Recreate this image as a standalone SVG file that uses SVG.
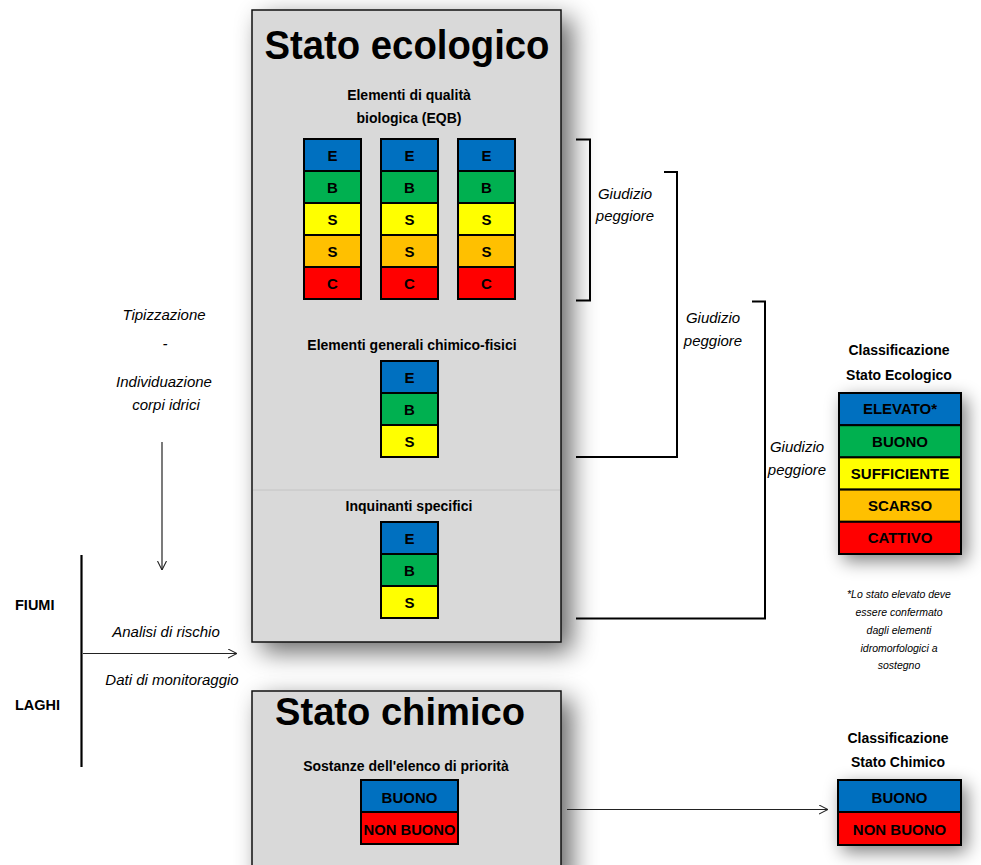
<svg xmlns="http://www.w3.org/2000/svg" width="981" height="865" viewBox="0 0 981 865">
<style>
text{font-family:"Liberation Sans",Arial,sans-serif;fill:#000}
.b{font-weight:bold}
.t{font-weight:bold;font-size:14px;text-anchor:middle}
.it{font-style:italic;font-size:15px;text-anchor:middle}
.fn{font-style:italic;font-size:10.5px;text-anchor:middle}
.cell{stroke:#000;stroke-width:2}
.c{font-weight:bold;font-size:15px;text-anchor:middle}
.box{fill:#d9d9d9;stroke:#111;stroke-width:1.5}
.ln{fill:none;stroke:#000;stroke-width:2}
.ar{fill:none;stroke:#222;stroke-width:1.2}
.E{fill:#0070C0}.B{fill:#00B050}.S{fill:#FFFF00}.O{fill:#FFC000}.R{fill:#FF0000}
</style>
<defs>
<filter id="sh" x="-20%" y="-20%" width="150%" height="150%">
<feGaussianBlur in="SourceAlpha" stdDeviation="13"/>
<feOffset dx="10" dy="9" result="o"/>
<feComponentTransfer><feFuncA type="linear" slope="0.6"/></feComponentTransfer>
<feMerge><feMergeNode/><feMergeNode in="SourceGraphic"/></feMerge>
</filter>
<filter id="sh2" x="-40%" y="-40%" width="180%" height="180%">
<feGaussianBlur in="SourceAlpha" stdDeviation="9"/>
<feOffset dx="5" dy="6"/>
<feComponentTransfer><feFuncA type="linear" slope="0.5"/></feComponentTransfer>
<feMerge><feMergeNode/><feMergeNode in="SourceGraphic"/></feMerge>
</filter>
<marker id="ah" viewBox="0 0 10 10" refX="10" refY="5" markerWidth="9" markerHeight="10" markerUnits="userSpaceOnUse" orient="auto">
<path d="M0,0 L10,5 L0,10" fill="none" stroke="#222" stroke-width="1.2"/>
</marker>
</defs>
<rect width="981" height="865" fill="#fff"/>

<g id="stato-ecologico">
<rect class="box" x="252" y="10" width="309" height="632" filter="url(#sh)"/>
<text class="b" x="407" y="59" font-size="40" text-anchor="middle" textLength="285" lengthAdjust="spacingAndGlyphs">Stato ecologico</text>
<line x1="253" y1="490" x2="560" y2="490" stroke="#c4c4c4" stroke-width="1"/>
</g>

<g id="eqb">
<text class="t" x="409" y="100">Elementi di qualità</text>
<text class="t" x="409" y="123">biologica (EQB)</text>
<g id="eqb-col1">
<rect class="cell E" x="304" y="139" width="57" height="32"/>
<rect class="cell B" x="304" y="171" width="57" height="32"/>
<rect class="cell S" x="304" y="203" width="57" height="32"/>
<rect class="cell O" x="304" y="235" width="57" height="32"/>
<rect class="cell R" x="304" y="267" width="57" height="32"/>
<text class="c" x="332.5" y="161">E</text><text class="c" x="332.5" y="193">B</text><text class="c" x="332.5" y="225">S</text><text class="c" x="332.5" y="257">S</text><text class="c" x="332.5" y="289">C</text>
</g>
<g id="eqb-col2">
<rect class="cell E" x="381" y="139" width="57" height="32"/>
<rect class="cell B" x="381" y="171" width="57" height="32"/>
<rect class="cell S" x="381" y="203" width="57" height="32"/>
<rect class="cell O" x="381" y="235" width="57" height="32"/>
<rect class="cell R" x="381" y="267" width="57" height="32"/>
<text class="c" x="409.5" y="161">E</text><text class="c" x="409.5" y="193">B</text><text class="c" x="409.5" y="225">S</text><text class="c" x="409.5" y="257">S</text><text class="c" x="409.5" y="289">C</text>
</g>
<g id="eqb-col3">
<rect class="cell E" x="458" y="139" width="57" height="32"/>
<rect class="cell B" x="458" y="171" width="57" height="32"/>
<rect class="cell S" x="458" y="203" width="57" height="32"/>
<rect class="cell O" x="458" y="235" width="57" height="32"/>
<rect class="cell R" x="458" y="267" width="57" height="32"/>
<text class="c" x="486.5" y="161">E</text><text class="c" x="486.5" y="193">B</text><text class="c" x="486.5" y="225">S</text><text class="c" x="486.5" y="257">S</text><text class="c" x="486.5" y="289">C</text>
</g>
</g>

<g id="chimico-fisici">
<text class="t" x="412" y="350">Elementi generali chimico-fisici</text>
<rect class="cell E" x="381" y="361" width="57" height="32"/>
<rect class="cell B" x="381" y="393" width="57" height="32"/>
<rect class="cell S" x="381" y="425" width="57" height="32"/>
<text class="c" x="409.5" y="383">E</text><text class="c" x="409.5" y="415">B</text><text class="c" x="409.5" y="447">S</text>
</g>

<g id="inquinanti">
<text class="t" x="409" y="511">Inquinanti specifici</text>
<rect class="cell E" x="381" y="522" width="57" height="32"/>
<rect class="cell B" x="381" y="554" width="57" height="32"/>
<rect class="cell S" x="381" y="586" width="57" height="32"/>
<text class="c" x="409.5" y="544">E</text><text class="c" x="409.5" y="576">B</text><text class="c" x="409.5" y="608">S</text>
</g>

<g id="stato-chimico">
<rect class="box" x="252" y="691" width="309" height="190" filter="url(#sh)"/>
<text class="b" x="400" y="725" font-size="39" text-anchor="middle" textLength="250" lengthAdjust="spacingAndGlyphs">Stato chimico</text>
<text class="t" x="406" y="771">Sostanze dell'elenco di priorità</text>
<rect class="cell E" x="361" y="780" width="97" height="32"/>
<rect class="cell R" x="361" y="812" width="97" height="32"/>
<text class="c" x="409.5" y="803" font-size="14.5">BUONO</text>
<text class="c" x="409.5" y="835" font-size="14.5" textLength="92" lengthAdjust="spacingAndGlyphs">NON BUONO</text>
</g>

<g id="class-ecologico">
<text class="t" x="899" y="355">Classificazione</text>
<text class="t" x="899" y="380">Stato Ecologico</text>
<g filter="url(#sh2)">
<rect class="cell E" x="839" y="393" width="122" height="32.2"/>
<rect class="cell B" x="839" y="425.2" width="122" height="32.2"/>
<rect class="cell S" x="839" y="457.4" width="122" height="32.2"/>
<rect class="cell O" x="839" y="489.6" width="122" height="32.2"/>
<rect class="cell R" x="839" y="521.8" width="122" height="32.2"/>
</g>
<text class="c" x="900" y="414" font-size="13.5">ELEVATO*</text>
<text class="c" x="900" y="446.5" font-size="13.5">BUONO</text>
<text class="c" x="900" y="478.5" font-size="13.5">SUFFICIENTE</text>
<text class="c" x="900" y="511" font-size="13.5">SCARSO</text>
<text class="c" x="900" y="543" font-size="13.5">CATTIVO</text>
<text class="fn" x="899" y="598">*Lo stato elevato deve</text>
<text class="fn" x="899" y="616">essere confermato</text>
<text class="fn" x="899" y="634">dagli elementi</text>
<text class="fn" x="899" y="652">idromorfologici a</text>
<text class="fn" x="899" y="669">sostegno</text>
</g>

<g id="class-chimico">
<text class="t" x="898" y="743">Classificazione</text>
<text class="t" x="898" y="767">Stato Chimico</text>
<g filter="url(#sh2)">
<rect class="cell E" x="838" y="780" width="123" height="32"/>
<rect class="cell R" x="838" y="812" width="123" height="33"/>
</g>
<text class="c" x="899.5" y="803" font-size="14.5">BUONO</text>
<text class="c" x="899.5" y="835" font-size="14.5">NON BUONO</text>
</g>

<g id="left-labels">
<text class="it" x="164" y="320">Tipizzazione</text>
<text class="it" x="165" y="349">-</text>
<text class="it" x="164" y="387">Individuazione</text>
<text class="it" x="166" y="410">corpi idrici</text>
<text class="b" x="15" y="610" font-size="14.5">FIUMI</text>
<text class="b" x="15" y="710" font-size="14.5">LAGHI</text>
<text class="it" x="166" y="637">Analisi di rischio</text>
<text class="it" x="172" y="685">Dati di monitoraggio</text>
</g>

<g id="giudizio-labels">
<text class="it" x="625" y="199">Giudizio</text>
<text class="it" x="625" y="221">peggiore</text>
<text class="it" x="713" y="323">Giudizio</text>
<text class="it" x="713" y="346">peggiore</text>
<text class="it" x="797" y="452">Giudizio</text>
<text class="it" x="797" y="475">peggiore</text>
</g>

<g id="connectors">
<path class="ln" d="M576,139.5 H590 V300.5 H576"/>
<path class="ln" d="M664,172 H677 V457 H576"/>
<path class="ln" d="M752,301.5 H765 V618.5 H576"/>
<line x1="81.5" y1="555" x2="81.5" y2="767" stroke="#000" stroke-width="2.2"/>
<line class="ar" x1="162" y1="442" x2="162" y2="570" marker-end="url(#ah)"/>
<line class="ar" x1="83" y1="653.5" x2="237" y2="653.5" marker-end="url(#ah)"/>
<line class="ar" x1="567" y1="809.5" x2="828" y2="809.5" marker-end="url(#ah)"/>
</g>
</svg>
